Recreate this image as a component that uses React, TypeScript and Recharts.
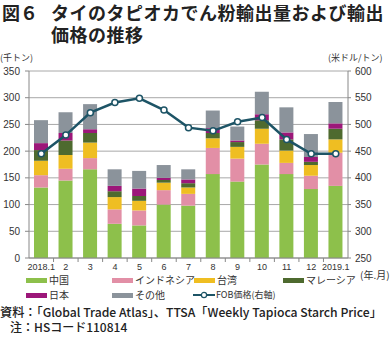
import React from 'react';
import { ComposedChart, Bar, Line, XAxis, YAxis, CartesianGrid } from 'recharts';

const months = ['2018.1', '2', '3', '4', '5', '6', '7', '8', '9', '10', '11', '12', '2019.1'];
const china = [132, 145, 166, 64, 61, 100, 98, 157, 143, 175, 157, 129, 135];
const indonesia = [23, 22, 21, 27, 28, 27, 22, 49, 43, 39, 21, 25, 62];
const taiwan = [27, 26, 29, 23, 18, 14, 12, 18, 22, 28, 23, 20, 25];
const malaysia = [20, 27, 18, 11, 9, 5, 8, 10, 9, 16, 21, 6, 20];
const japan = [13, 14, 7, 10, 14, 4, 7, 9, 3, 11, 13, 9, 10];
const others = [43, 39, 47, 31, 33, 24, 19, 33, 26, 42, 47, 43, 40];
const fob = [445, 480, 522, 541, 549, 527, 494, 488, 505, 513, 472, 445, 445];

const leftTicks = [0, 50, 100, 150, 200, 250, 300, 350];
const rightTicks = [250, 300, 350, 400, 450, 500, 550, 600];

const seriesNames = ['中国', 'インドネシア', '台湾', 'マレーシア', '日本', 'その他'];
const lineName = 'FOB価格(右軸)';

const COLORS = {
  china: '#8dc04b',
  indonesia: '#e28fa6',
  taiwan: '#efbe22',
  malaysia: '#4e6a2f',
  japan: '#9c1779',
  others: '#8b939b',
  line: '#1d5466',
};

const data = months.map((m, i) => ({
  month: m,
  china: china[i],
  indonesia: indonesia[i],
  taiwan: taiwan[i],
  malaysia: malaysia[i],
  japan: japan[i],
  others: others[i],
  fob: fob[i],
}));

const FONT = '"Noto Sans CJK JP", "Noto Sans", sans-serif';
const NUMFONT = '"Liberation Sans", Arial, sans-serif';

const PLOT_W = 319;

const XTick = (props: any) => {
  const { x, y, payload, index } = props;
  const half = PLOT_W / months.length / 2;
  return (
    <g>
      <text x={x} y={y} dy="0.71em" textAnchor="middle" fontSize={9} fontFamily={NUMFONT} fill="#333">
        {payload.value}
      </text>
      {index < months.length - 1 && (
        <line x1={x + half} x2={x + half} y1={y - 6} y2={y - 2} stroke="#888" strokeWidth={1} />
      )}
    </g>
  );
};

const legendRow1 = [
  { name: seriesNames[0], color: COLORS.china, left: 26 },
  { name: seriesNames[1], color: COLORS.indonesia, left: 112 },
  { name: seriesNames[2], color: COLORS.taiwan, left: 194 },
  { name: seriesNames[3], color: COLORS.malaysia, left: 283 },
];
const legendRow2 = [
  { name: seriesNames[4], color: COLORS.japan, left: 26 },
  { name: seriesNames[5], color: COLORS.others, left: 112 },
];

const abs = (left: number, top: number, extra: any = {}) => ({
  position: 'absolute' as const,
  left,
  top,
  whiteSpace: 'nowrap' as const,
  ...extra,
});

export default function App() {
  return (
    <div style={{ position: 'absolute', left: 0, top: 0, width: 391, height: 341, background: '#fff', fontFamily: FONT, overflow: 'hidden' }}>
      <div style={abs(2, 2, { fontSize: 18, fontWeight: 700, color: '#222', lineHeight: '20px' })}>図６</div>
      <div style={abs(51, 2, { fontSize: 18, fontWeight: 700, color: '#222', lineHeight: '20px', letterSpacing: 0.5 })}>
        タイのタピオカでん粉輸出量および輸出
      </div>
      <div style={abs(51, 24, { fontSize: 18, fontWeight: 700, color: '#222', lineHeight: '20px', letterSpacing: 0.5 })}>
        価格の推移
      </div>
      <div style={abs(0, 51, { fontSize: 9, color: '#333', lineHeight: '14px' })}>(千トン)</div>
      <div style={abs(328, 51, { fontSize: 9, color: '#333', lineHeight: '14px' })}>(米ドル/トン)</div>
      <div style={abs(360, 268, { fontSize: 10, color: '#333', lineHeight: '14px' })}>(年.月)</div>

      <div style={{ position: 'absolute', left: 0, top: 0 }}>
        <ComposedChart width={391} height={341} data={data} margin={{ top: 71, right: 0, left: 0, bottom: 63 }}>
          <CartesianGrid vertical={false} stroke="#a8a8a8" yAxisId="left" />
          <XAxis
            dataKey="month"
            height={20}
            interval={0}
            axisLine={{ stroke: '#888' }}
            tickLine={false}
            tickSize={4}
            tickMargin={2}
            tick={<XTick />}
          />
          <YAxis
            yAxisId="left"
            width={29}
            domain={[0, 350]}
            ticks={leftTicks}
            axisLine={{ stroke: '#888' }}
            tickLine={{ stroke: '#888' }}
            tickSize={4}
            tickMargin={5}
            tick={{ fontSize: 10, fill: '#333', fontFamily: NUMFONT }}
          />
          <YAxis
            yAxisId="right"
            orientation="right"
            width={43}
            domain={[250, 600]}
            ticks={rightTicks}
            axisLine={{ stroke: '#888' }}
            tickLine={{ stroke: '#888' }}
            tickSize={3}
            tickMargin={4}
            tick={{ fontSize: 10, fill: '#333', fontFamily: NUMFONT, textAnchor: 'start' }}
          />
          <Bar yAxisId="left" dataKey="china" name={seriesNames[0]} stackId="a" fill={COLORS.china} barSize={14} isAnimationActive={false} />
          <Bar yAxisId="left" dataKey="indonesia" name={seriesNames[1]} stackId="a" fill={COLORS.indonesia} barSize={14} isAnimationActive={false} />
          <Bar yAxisId="left" dataKey="taiwan" name={seriesNames[2]} stackId="a" fill={COLORS.taiwan} barSize={14} isAnimationActive={false} />
          <Bar yAxisId="left" dataKey="malaysia" name={seriesNames[3]} stackId="a" fill={COLORS.malaysia} barSize={14} isAnimationActive={false} />
          <Bar yAxisId="left" dataKey="japan" name={seriesNames[4]} stackId="a" fill={COLORS.japan} barSize={14} isAnimationActive={false} />
          <Bar yAxisId="left" dataKey="others" name={seriesNames[5]} stackId="a" fill={COLORS.others} barSize={14} isAnimationActive={false} />
          <Line
            yAxisId="right"
            type="linear"
            dataKey="fob"
            name={lineName}
            stroke={COLORS.line}
            strokeWidth={2.5}
            dot={{ r: 3, fill: '#fff', stroke: COLORS.line, strokeWidth: 1.5 }}
            isAnimationActive={false}
          />
        </ComposedChart>
      </div>

      {legendRow1.map((it) => (
        <div key={it.name} style={abs(it.left, 273, { display: 'flex', alignItems: 'center', height: 14 })}>
          <div style={{ width: 21, height: 5, background: it.color, marginRight: 2 }} />
          <span style={{ fontSize: 10, color: '#333', lineHeight: '14px' }}>{it.name}</span>
        </div>
      ))}
      {legendRow2.map((it) => (
        <div key={it.name} style={abs(it.left, 288, { display: 'flex', alignItems: 'center', height: 14 })}>
          <div style={{ width: 21, height: 5, background: it.color, marginRight: 2 }} />
          <span style={{ fontSize: 10, color: '#333', lineHeight: '14px' }}>{it.name}</span>
        </div>
      ))}
      <div style={abs(193, 288, { display: 'flex', alignItems: 'center', height: 14 })}>
        <svg width={22} height={8} style={{ marginRight: 1 }}>
          <line x1={0} x2={22} y1={4} y2={4} stroke={COLORS.line} strokeWidth={2} />
          <circle cx={11} cy={4} r={2.6} fill="#fff" stroke={COLORS.line} strokeWidth={1.2} />
        </svg>
        <span style={{ fontSize: 9, color: '#333', lineHeight: '14px' }}>{lineName}</span>
      </div>

      <div style={abs(0, 306, { fontSize: 12.2, color: '#222', lineHeight: '13px', fontWeight: 500 })}>
        資料：「Global Trade Atlas」、TTSA「Weekly Tapioca Starch Price」
      </div>
      <div style={abs(10, 320, { fontSize: 12, color: '#222', lineHeight: '13px', fontWeight: 500 })}>
        注：HSコード110814
      </div>
    </div>
  );
}
